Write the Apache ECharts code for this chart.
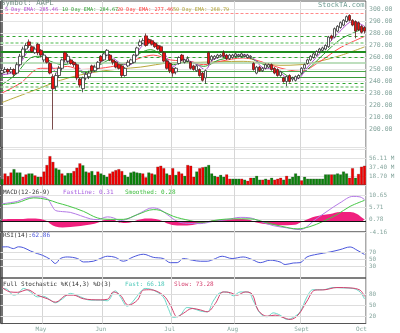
<!DOCTYPE html>
<html><head><meta charset="utf-8">
<script src="https://cdn.jsdelivr.net/npm/echarts@6/dist/echarts.min.js"></script>
<style>html,body{margin:0;padding:0;background:#fff}#c{width:400px;height:333px}</style>
</head><body><div id="c"></div>
<script>
// ---------- DATA ----------
const opens = [247,248,250,248,250,247,254,261,267,273, 269,264,271,266,258,260,255,244,236,245,
 251,264,257,258,256,254,242,234,243,244, 253,249,251,261,258,262,262,258,256,254,
 253,245,253,255,256,262,270,272,278,275, 274,272,270,269,264,257,255,251,248,255,
 262,256,257,256,253,249,250,247,243,264, 258,259,260,261,264,262,259,260,261,261,
 261,261,260,260,255,247,252,249,251,252, 254,251,250,245,243,240,245,242,241,243,
 247,251,255,258,260,262,265,266,267,269, 278,277,282,285,287,290,295,291,290,289, 286,285];
const closes = [249,250,248,250,246,254,261,267,270,270, 265,267,264,262,262,256,247,234,245,251,
 258,258,261,255,254,243,237,243,246,247, 249,252,256,257,263,266,258,256,252,251,
 245,251,256,258,262,268,273,274,270,272, 271,269,267,265,257,251,249,247,251,260,
 258,258,259,251,250,253,245,241,249,255, 261,261,262,262,261,259,262,262,263,262,
 263,262,262,261,250,252,249,251,254,254, 250,247,245,248,240,244,240,243,244,245,
 251,254,258,261,263,265,267,268,270,277, 276,284,286,289,291,294,291,287,282,283, 281,282];
const lows = [246,247,246,247,244,246,253,259,265,268, 264,263,262,260,256,255,246,200,233,243,
 249,256,255,254,252,241,235,231,241,242, 247,248,250,255,257,261,257,254,251,250,
 243,244,252,254,255,261,269,271,269,271, 270,268,266,264,256,250,247,244,246,254,
 257,255,256,250,249,248,244,240,238,254, 257,258,259,260,260,258,258,259,260,260,
 260,260,259,259,249,246,248,248,250,251, 249,246,244,244,239,236,239,240,240,242,
 246,250,254,257,259,261,264,265,266,268, 274,276,281,284,286,289,290,286,276,282, 280,280];
const highs = [251,252,251,252,251,256,263,269,272,275, 270,269,272,267,264,261,256,246,247,253,
 259,265,263,259,257,255,243,244,248,249, 254,254,257,262,264,267,263,259,257,255,
 254,252,258,259,263,269,275,276,280,276, 275,273,271,270,265,258,256,252,252,261,
 263,259,261,257,254,254,251,248,250,265, 262,262,263,263,266,263,263,263,264,263,
 264,263,263,262,256,253,253,252,255,255, 255,252,251,249,244,245,246,244,245,246,
 252,255,259,262,264,266,268,269,271,278, 279,285,287,290,292,295,296,292,291,290, 287,286];
// volume in millions, and direction (1 = up/green, -1 = down/red)
const volumes = [12.5,24,18.7,26,33,26,26,17,22,24, 24,20,17,17,28,41.6,60,48,35,32,
 24,20,25,25,29,36,45,41,28,26, 29,21,28,24,21,17,24,28,31,33,
 29,21,17,26,28,26,25,24,16,26, 24,22,38,40,35,24,21,35,21,28,
 24,19,41.6,40,17,28, 35,37,38,41.6,24,19,17,21,17,22,
 13,13,13,13,13,11,8.7,15,15,19, 11,11,13,11,15,11,13,15,11,19,
 13,17,24,19,9.7,17,13,13,13,13, 13,13,22,22,22,22,24,22,28,24, 15,35,15,23,38,40];
const volDir = [1,-1,-1,-1,1,1,1,-1,-1,1, 1,-1,1,-1,-1,-1,-1,-1,1,1,
 -1,1,1,1,-1,-1,-1,1,1,-1, 1,1,-1,1,1,1,-1,-1,-1,-1,
 -1,1,1,1,1,1,1,-1,-1,1, -1,1,-1,-1,-1,1,-1,-1,1,-1,
 -1,1,-1,-1,-1,1, -1,-1,1,1,1,1,-1,1,1,-1,
 -1,1,1,1,-1,1,-1,-1,1,1, 1,-1,1,-1,1,-1,-1,-1,1,-1,
 1,1,1,1,-1,1,1,1,1,1, 1,1,1,1,-1,1,1,1,1,1, -1,-1,1,-1,-1,-1];

// indicator lines: [day index, value]
const ema5 = [[0,245.7],[4.5,248.5],[7.2,259.6],[9.5,266.5],[12.8,265],[16.2,254],[18.5,247],[21.8,256.8],[25.2,252.6],[28.5,245.7],[31.8,251.3],[35.2,262.3],[39.5,255.4],[42.8,254],[46.2,268],[49.5,273.5],[53.8,265],[57.2,252.6],[60.5,258.2],[65.2,254],[67.8,249.8],[70.5,258.2],[75.2,261],[80.5,262.3],[83.8,259.6],[87.2,251.3],[91.8,249.8],[95.2,243],[98.5,242.3],[101.8,251.3],[107.2,266.5],[112.8,281.8],[117.2,290],[121,286]];
const ema10 = [[0,237.4],[4.5,245.7],[9.5,259.6],[12.8,261],[16.2,256.8],[20.5,254],[23.8,255.5],[27.2,247],[32.8,254],[36.2,258],[40.5,254],[46.2,263.7],[49.5,266.5],[53.8,261],[57.2,254],[61.8,256.8],[67.2,252.6],[72.8,258.2],[80.5,261],[86.2,255.4],[92.8,248.5],[97.2,243],[101.8,249.8],[107.2,262.3],[112.8,274.8],[117.2,280.4],[121,284.6]];
const ema20 = [[0,230.4],[6.2,238.7],[12.8,251],[17.8,251],[21.8,252.6],[26.2,250],[32.8,251],[39.5,254],[46.2,259.6],[50.5,262],[56.2,258],[62.8,256.8],[67.2,254],[72.8,256.8],[80.5,259.6],[86.2,256.8],[92.8,251.3],[99.5,248.5],[106.2,256.8],[112.8,268],[121,277.5]];
const ema50 = [[0,222.5],[12.8,234.6],[19.5,241],[26.2,245.5],[32.8,248.5],[39.5,250.5],[46.2,252],[56.2,255.5],[66.2,256],[72.8,256.5],[80.5,256.8],[86.2,255.5],[92.8,253.5],[99.5,254],[106.2,257],[112.8,261.5],[121,268.8]];
const macdFast = [[0,7.1],[2.8,7.6],[5.2,8.1],[7.2,9.1],[10.5,9.9],[12.8,9.9],[15.2,9.1],[16.8,6.1],[17.8,4.5],[20.2,4.0],[22.8,3.7],[26.2,2.4],[29.5,1.1],[31.8,0.8],[35.2,1.9],[37.2,1.5],[39.5,0.4],[42.8,1.5],[46.2,3.5],[50.2,5.5],[52.8,4.8],[55.2,2.8],[58.5,0.1],[61.8,-0.7],[66.2,-0.8],[70.5,0.1],[75.2,0.8],[79.5,1.7],[82.8,1.5],[86.2,0.1],[90.5,-1.6],[95.2,-2.5],[99.5,-3.2],[101.8,-2.0],[103.8,0.1],[108.5,4.1],[112.8,7.5],[117.2,10.1],[119.5,9.9],[121,8.8]];
const macdSlow = [[0,6.8],[5.2,7.6],[10.5,9.5],[15.2,8.8],[18.5,7.5],[21.8,6.4],[27.2,4.1],[31.8,1.5],[36.2,0.9],[40.5,0.9],[45.2,2.8],[50.5,4.8],[52.8,4.5],[57.2,2.1],[62.8,0.4],[66.2,-0.3],[72.8,0.8],[77.2,1.1],[82.8,1.1],[88.5,-0.5],[93.8,-2.0],[98.5,-2.9],[102.8,-2.0],[107.2,0.1],[111.8,2.8],[116.2,6.1],[121,8.5]];
const macdHist = [[0,0.8],[2.8,1.0],[6.2,1.0],[9.5,1.2],[12.8,1.0],[14.8,0.3],[16.2,-1.0],[17.8,-2.0],[20.2,-2.4],[22.8,-2.2],[26.2,-1.8],[29.5,-1.2],[32.2,-0.4],[33.8,0.5],[36.2,0.8],[37.8,0.5],[38.8,-0.3],[41.2,-0.6],[43.5,-0.2],[45.2,0.6],[48.5,1.2],[51.2,1.0],[53.5,0.2],[55.2,-0.8],[58.5,-1.6],[61.8,-1.6],[65.2,-1.0],[68.5,-0.3],[70.5,0.5],[74.5,0.7],[79.5,1.0],[82.8,0.6],[84.5,-0.3],[87.8,-1.0],[92.8,-1.5],[97.8,-1.3],[99.5,-0.5],[101.2,0.5],[104.5,2.0],[109.5,3.0],[112.8,3.8],[116.2,3.8],[118.5,3.0],[120.2,1.5],[121,0.8]];
const rsi = [[0,84],[1.8,84.5],[3.8,79.5],[5.5,84.5],[7.2,82],[9.5,72.8],[11.8,65.5],[13.5,60.8],[16.2,48.8],[17.8,37.6],[19.5,51.6],[21.8,56],[25.2,51.6],[27.2,42],[30.5,44],[32.8,51.6],[35.2,58],[37.8,55],[40.5,44],[43.8,56],[47.2,63.6],[50.5,55],[53.8,51.6],[56.2,40],[58.5,40],[60.5,51.6],[63.5,47],[66.2,44],[68.5,44],[70.5,48.8],[73.5,58],[76.8,51.6],[80.5,56],[83.5,48.8],[86.2,40],[89.5,47],[92.8,42],[94.5,34.8],[97.2,39],[99.5,40],[101.8,56],[105.2,63.6],[109.5,70],[112.8,76.5],[116.2,84],[118.5,75],[120.5,65.5],[121,62.9]];
const stochFast = [[0,95.5],[1.8,93],[3.8,77.3],[5.2,80],[7.2,95.5],[9.5,86],[11.8,72.6],[13.8,74],[16.2,63.6],[17.8,56.3],[20.2,67.3],[22.8,82],[26.2,72.6],[29.5,63.6],[32.8,63.6],[35.2,62],[37.8,89],[39.5,72.6],[41.8,47.3],[43.8,61],[46.2,86],[47.8,95.5],[50.5,91],[53.8,72.6],[55.5,41],[57.2,16.5],[59.5,22.8],[61.8,43.6],[63.8,41],[66.2,34],[68.5,31.8],[70.5,61],[72.8,84],[75.2,86],[77.2,75.4],[79.5,86],[82.2,86],[83.8,63.6],[86.2,27.4],[88.5,18.3],[90.5,29],[92.8,22.8],[95.2,11],[97.2,16.5],[99.5,32],[101.8,72.6],[103.8,92],[107.2,92],[110.5,98],[113.8,97],[117.2,95.5],[119.5,86],[121,67]];
const stochSlow = [[0,98],[2.8,86],[5.2,85],[8.5,92],[11.8,77.3],[15.2,67.3],[17.8,58.2],[21.8,77.3],[23.8,77.3],[27.2,67.3],[32.8,64.5],[35.2,66],[37.2,86],[39.5,77.3],[42.2,50],[45.2,63.6],[47.2,91],[49.5,92],[53.8,77.3],[56.2,50],[58.5,18.3],[60.5,27.5],[63.5,41],[66.2,37],[68.5,32],[71.2,54.5],[73.8,86],[76.2,84],[78.5,77.3],[81.2,86],[83.5,80],[85.5,36.4],[88.5,20],[91.2,22.8],[93.8,16.5],[96.2,11],[98.8,22.8],[101.8,61],[104.5,91],[107.8,92],[111.8,98],[116.2,97],[119.5,91],[121,74]];

// support / resistance levels drawn on the price panel
const levels = [297.1, 277.7, 272.7, 264.8, 260.2, 255.4, 248.5, 243.5, 238.5, 235.7, 232.7];
const priceTicks = [200,210,220,230,240,250,260,270,280,290,300];
const rsiTicks = [30,50,70];
const stochTicks = [20,50,80];
const monthNames = ['May','Jun','Jul','Aug','Sept','Oct'];
const monthLabelIdx = [13,33,56,77,100,120];
const monthLineIdx = [14,34,57,78,100];
const legendTexts = {
  ema: ['5 Day EMA: 285.46','10 Day EMA: 284.67','20 Day EMA: 277.46','50 Day EMA: 268.79'],
  macd: ['MACD(12-26-9)','FastLine: 0.31','Smoothed: 0.28'],
  rsi: ['RSI(14):','62.86'],
  stoch: ['Full Stochastic %K(14,3) %D(3)','Fast: 66.18','Slow: 73.28']
};

// ---------- CHART ----------
const N = opens.length;
const cats = opens.map((_, i) => String(i));
const MONO = '"DejaVu Sans Mono", monospace';
const LBL = '#86a69e';
const levelStyles = [
  {color:'#ff8a8a', type:[3,2], width:1},
  {color:'#2fa52f', type:[3,3], width:1},
  {color:'#a6dca6', type:[3,2], width:2},
  {color:'#1e8c1e', type:'solid', width:2},
  {color:'#2fa52f', type:[3,3], width:1},
  {color:'#a8d4a8', type:'solid', width:1.5},
  {color:'#4ca84c', type:'solid', width:1},
  {color:'#3a9a3a', type:'solid', width:1},
  {color:'#2fa52f', type:[3,3], width:1},
  {color:'#8fd08f', type:[3,2], width:1.5},
  {color:'#2fa52f', type:[3,3], width:1}
];
function gridLines(vals, color) {
  return {silent:true, symbol:['none','none'], label:{show:false}, animation:false,
    lineStyle:{color: color || '#e2e2e2', type:'solid', width:1},
    data: vals.map(v => ({yAxis:v}))};
}
const gridDefs = [
  {top:1, height:146.5},
  {top:147.5, height:37.5},
  {top:185, height:47},
  {top:232, height:46},
  {top:278, height:45.5}
];
const grid = gridDefs.map(g => ({left:0.5, right:34, top:g.top, height:g.height, show:true, borderColor:'#555', borderWidth:1, backgroundColor:'transparent'}));
const xAxis = [];
gridDefs.forEach((g, k) => {
  xAxis.push({type:'category', gridIndex:k, data:cats, boundaryGap:true,
    axisLine:{show:false}, axisTick:{show:false},
    axisLabel:{show:k===4, interval:(i)=>monthLabelIdx.includes(i), margin:3, color:LBL, fontSize:6, fontFamily:MONO,
      formatter:(v)=>{const j=monthLabelIdx.indexOf(Number(v)); return j>=0?monthNames[j]:'';}},
    splitLine:{show:true, interval:(i)=>monthLineIdx.includes(i), lineStyle:{color:'#d6d6d6', width:1}}});
  xAxis.push({type:'value', gridIndex:k, min:-0.5, max:N-0.5, show:false});
});
const yBase = {type:'value', position:'right', axisTick:{show:false}, axisLine:{show:true, lineStyle:{color:'#444', width:1.5}},
  axisLabel:{margin:3, color:LBL, fontSize:6, fontFamily:MONO}};
const yAxis = [
  Object.assign({}, yBase, {gridIndex:0, min:185, max:307.08, interval:5, splitLine:{show:false},
    axisLabel:Object.assign({}, yBase.axisLabel, {fontSize:6.5, formatter:(v)=> (priceTicks.includes(v) ? v.toFixed(2) : '')})}),
  Object.assign({}, yBase, {gridIndex:1, min:0, max:77.9, interval:18.7035, splitLine:{show:true, lineStyle:{color:'#e2e2e2'}},
    axisLabel:Object.assign({}, yBase.axisLabel, {formatter:(v)=> (v>1 && v<60 ? (Math.floor(v*100)/100).toFixed(2)+' M' : '')})}),
  Object.assign({}, yBase, {gridIndex:2, min:-4.16, max:14.655, interval:4.9367, splitLine:{show:true, lineStyle:{color:'#e2e2e2'}},
    axisLabel:Object.assign({}, yBase.axisLabel, {formatter:(v)=> (v<12 ? v.toFixed(2) : '')})}),
  Object.assign({}, yBase, {gridIndex:3, min:-3, max:126, interval:1, splitLine:{show:false},
    axisLabel:Object.assign({}, yBase.axisLabel, {formatter:(v)=> (rsiTicks.includes(v) ? String(v) : '')})}),
  Object.assign({}, yBase, {gridIndex:4, min:0, max:124, interval:2, splitLine:{show:false},
    axisLabel:Object.assign({}, yBase.axisLabel, {formatter:(v)=> (stochTicks.includes(v) ? String(v) : '')})})
];
const lineS = (name, data, xi, yi, color, z, extra) => Object.assign({
  name, type:'line', data, xAxisIndex:xi, yAxisIndex:yi, showSymbol:false, smooth:0.35,
  lineStyle:{color, width:1}, itemStyle:{color}, z, animation:false, silent:true}, extra || {});

const priceMarks = gridLines(priceTicks, '#e4e4e4');
priceMarks.data = priceMarks.data.concat(levels.map((v, i) => ({yAxis:v, lineStyle:levelStyles[i]})));

const series = [
  lineS('EMA50', ema50, 1, 0, '#b9a93e', 2, {markLine: priceMarks}),
  lineS('EMA20', ema20, 1, 0, '#ff4d4d', 3),
  lineS('EMA10', ema10, 1, 0, '#2e9e2e', 3),
  lineS('EMA5', ema5, 1, 0, '#b04ad0', 3),
  {type:'candlestick', xAxisIndex:0, yAxisIndex:0, z:5, barWidth:3, animation:false, silent:true,
    data: opens.map((o, i) => [o, closes[i], lows[i], highs[i]]),
    itemStyle:{color:'#ffffff', color0:'#ee1010', borderColor:'#333', borderColor0:'#5a2020', borderWidth:0.8}},
  {type:'bar', xAxisIndex:2, yAxisIndex:1, barWidth:3, animation:false, silent:true,
    data: volumes.map((v, i) => ({value:v, itemStyle:{color: volDir[i] > 0 ? '#0a820a' : '#f00000', borderColor:'rgba(60,60,60,0.5)', borderWidth:0.4}}))},
  lineS('Hist', macdHist, 5, 2, '#f0207e', 2, {lineStyle:{width:0}, areaStyle:{color:'#f0207e', opacity:1},
    markLine: {silent:true, symbol:['none','none'], label:{show:false}, animation:false, data:[{yAxis:0, lineStyle:{color:'#111', width:1, type:'solid'}}]}}),
  lineS('Fast', macdFast, 5, 2, '#b47ae6', 3),
  lineS('Smooth', macdSlow, 5, 2, '#46c846', 3),
  lineS('RSI', rsi, 7, 3, '#4a56dc', 3, {markLine: gridLines(rsiTicks, '#dddddd')}),
  lineS('StochFast', stochFast, 9, 4, '#6ad8c8', 3, {markLine: gridLines(stochTicks, '#dddddd')}),
  lineS('StochSlow', stochSlow, 9, 4, '#d4406e', 4)
];

const txt = (text, x, y, fill, size) => ({type:'text', x, y, silent:true, z:100,
  style:{text, fill, font: size + 'px ' + MONO, verticalAlign:'middle', align:'left'}});
const graphic = [
  txt('Symbol: AAPL', 1, 3.5, '#6f8c80', 7.3),
  txt('StockTA.com', 318, 5, '#6e9c92', 7),
  txt(legendTexts.ema[0], 5, 9.5, '#b04ad0', 5.2),
  txt(legendTexts.ema[1], 62, 9.5, '#2e9e2e', 5.2),
  txt(legendTexts.ema[2], 117, 9.5, '#ff3030', 5.2),
  txt(legendTexts.ema[3], 173, 9.5, '#b0a030', 5.2),
  txt(legendTexts.macd[0], 3, 192.5, '#333', 6),
  txt(legendTexts.macd[1], 63, 192.5, '#a860e0', 6),
  txt(legendTexts.macd[2], 125, 192.5, '#3cbc3c', 6),
  txt(legendTexts.rsi[0], 3, 235.5, '#333', 6),
  txt(legendTexts.rsi[1], 32, 235.5, '#4a56dc', 6),
  txt(legendTexts.stoch[0], 3, 284, '#333', 6),
  txt(legendTexts.stoch[1], 125, 284, '#4cc8b8', 6),
  txt(legendTexts.stoch[2], 174, 284, '#d4406e', 6)
];

const chart = echarts.init(document.getElementById('c'), null, {renderer:'canvas'});
chart.setOption({animation:false, backgroundColor:'#fff', grid, xAxis, yAxis, series, graphic});
</script></body></html>
